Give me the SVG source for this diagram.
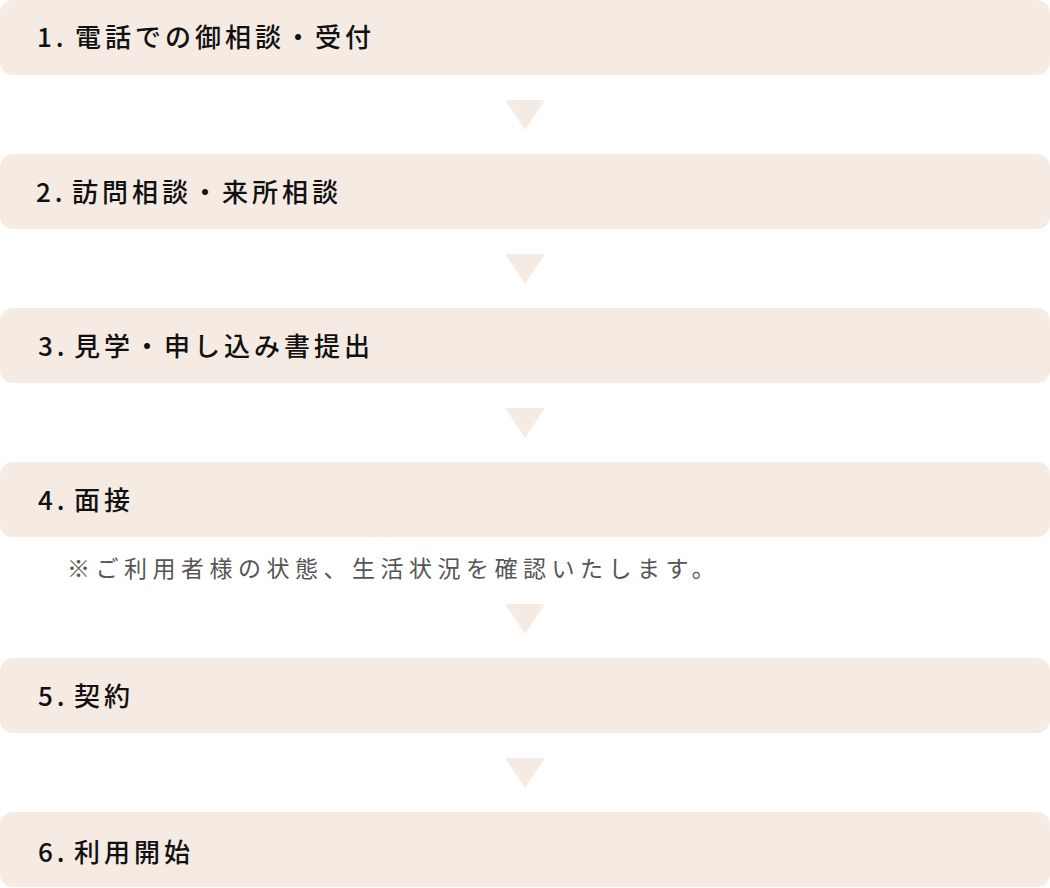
<svg xmlns="http://www.w3.org/2000/svg" width="1050" height="888" viewBox="0 0 1050 888">
  <style>
    .box { fill: #f5ebe3; }
    .tri { fill: #f5ebe3; }
    .label { font-family: "Noto Sans CJK JP", "Noto Sans", sans-serif; font-size: 26px; font-weight: 500; fill: #111; letter-spacing: 4px; dominant-baseline: central; }
    .note { font-family: "Noto Sans CJK JP", "Noto Sans", sans-serif; font-size: 23px; fill: #555; letter-spacing: 5.5px; dominant-baseline: central; }
  </style>
  <rect width="1050" height="888" fill="#ffffff"/>
  <g id="connectors">
    <polygon class="tri" points="505,100 545,100 525,130"/>
    <polygon class="tri" points="505,254 545,254 525,284"/>
    <polygon class="tri" points="505,408 545,408 525,438"/>
    <polygon class="tri" points="505,604 545,604 525,634"/>
    <polygon class="tri" points="505,758 545,758 525,788"/>
  </g>
  <g id="step1">
    <rect class="box" x="0" y="0" width="1050" height="75" rx="13"/>
    <text class="label" x="37" y="35">1.<tspan x="75">電話での御相談・受付</tspan></text>
  </g>
  <g id="step2">
    <rect class="box" x="0" y="154" width="1050" height="75" rx="13"/>
    <text class="label" x="36" y="190">2.<tspan x="72">訪問相談・来所相談</tspan></text>
  </g>
  <g id="step3">
    <rect class="box" x="0" y="308" width="1050" height="75" rx="13"/>
    <text class="label" x="38" y="344">3.<tspan x="74">見学・申し込み書提出</tspan></text>
  </g>
  <g id="step4">
    <rect class="box" x="0" y="462" width="1050" height="75" rx="13"/>
    <text class="label" x="38" y="498">4.<tspan x="74">面接</tspan></text>
    <text class="note" x="67" y="567">※ご利用者様の状態、生活状況を確認いたします。</text>
  </g>
  <g id="step5">
    <rect class="box" x="0" y="658" width="1050" height="75" rx="13"/>
    <text class="label" x="38" y="694">5.<tspan x="74">契約</tspan></text>
  </g>
  <g id="step6">
    <rect class="box" x="0" y="812" width="1050" height="75" rx="13"/>
    <text class="label" x="38" y="850">6.<tspan x="74">利用開始</tspan></text>
  </g>
</svg>
